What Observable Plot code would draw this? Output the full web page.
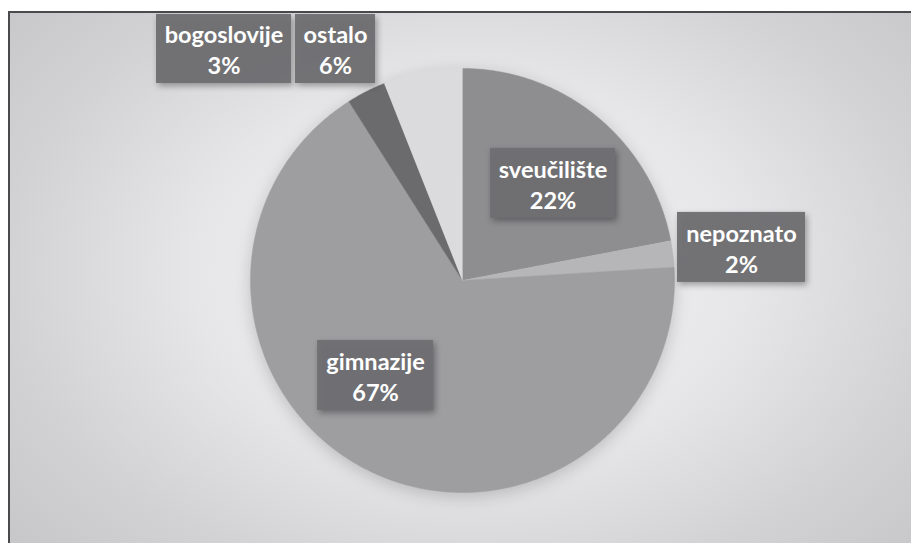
<!DOCTYPE html>
<html>
<head>
<meta charset="utf-8">
<script src="https://cdn.jsdelivr.net/npm/d3@7"></script>
<script src="https://cdn.jsdelivr.net/npm/@observablehq/plot@0.6"></script>
<style>
  html, body { margin: 0; padding: 0; background: #ffffff; }
  #wrap { position: relative; width: 911px; height: 543px; overflow: hidden; }
  #bg {
    position: absolute; left: 8px; top: 11px; right: 0; bottom: 0;
    border-top: 2px solid #4a4a4c; border-left: 2px solid #4a4a4c;
    background: radial-gradient(ellipse 620px 430px at 462px 258px, #f6f6f6 0%, #e6e6e8 45%, #d2d2d4 75%, #c6c6c8 100%);
  }
  #chart { position: absolute; left: 0; top: 0; }
</style>
</head>
<body>
<div id="wrap"><div id="bg"></div><div id="chart"></div></div>
<script>
// ---- data ----
const categories = ["sveučilište", "nepoznato", "gimnazije", "bogoslovije", "ostalo"];
const percents   = [22, 2, 67, 3, 6];
const colors     = ["#8e8e91", "#b6b6b9", "#9e9ea1", "#6b6b6e", "#dbdbdd"];

// ---- layout (pie in units of radius, centre at 0,0) ----
const W = 911, H = 543, R = 212, CX = 462, CY = 280;
// label box centres (in radius units) and box sizes (px)
const labelLayout = {
  "sveučilište": {ux: 0.427, uy: 0.458, w: 125, h: 70},
  "nepoznato":   {ux: 1.316, uy: 0.156, w: 128, h: 70},
  "gimnazije":   {ux: -0.410, uy: -0.448, w: 116, h: 70},
  "bogoslovije": {ux: -1.125, uy: 1.092, w: 135, h: 69},
  "ostalo":      {ux: -0.599, uy: 1.092, w: 80, h: 69}
};

const data = categories.map((c, i) => ({category: c, value: percents[i]}));
const arcs = d3.pie().sort(null).value(d => d.value)(data);

// slice outlines: centre + points along the arc (angle measured clockwise from 12 o'clock)
const slicePts = [];
for (const a of arcs) {
  const cat = a.data.category;
  slicePts.push({category: cat, x: 0, y: 0});
  const n = Math.max(4, Math.ceil((a.endAngle - a.startAngle) / 0.01));
  for (let k = 0; k <= n; k++) {
    const t = a.startAngle + (a.endAngle - a.startAngle) * k / n;
    slicePts.push({category: cat, x: Math.sin(t), y: Math.cos(t)});
  }
}

const labels = data.map(d => {
  const L = labelLayout[d.category];
  return {
    text: `${d.category}\n${d.value}%`,
    x: L.ux, y: L.uy,
    x1: L.ux - L.w / 2 / R, x2: L.ux + L.w / 2 / R,
    y1: L.uy - L.h / 2 / R, y2: L.uy + L.h / 2 / R
  };
});

const plot = Plot.plot({
  width: W, height: H,
  margin: 0,
  style: {background: "transparent", overflow: "visible"},
  x: {domain: [-CX / R, (W - CX) / R], axis: null},
  y: {domain: [-(H - CY) / R, CY / R], axis: null},
  color: {domain: categories, range: colors},
  marks: [
    Plot.line(slicePts, {
      x: "x", y: "y", z: "category", fill: "category", stroke: "category",
      strokeWidth: 0.5, curve: "linear",
      imageFilter: "drop-shadow(0px 4px 8px rgba(0,0,0,0.18))"
    }),
    Plot.rect(labels, {
      x1: "x1", x2: "x2", y1: "y1", y2: "y2",
      fill: "#6f6f72", fillOpacity: 0.96,
      imageFilter: "drop-shadow(2px 3px 3px rgba(0,0,0,0.35))"
    }),
    Plot.text(labels, {
      x: "x", y: "y", text: "text",
      fill: "white", fontSize: 23.5, fontWeight: "bold",
      fontFamily: "Lato, 'Open Sans', sans-serif",
      lineHeight: 1.32, lineAnchor: "middle", textAnchor: "middle"
    })
  ]
});
document.getElementById("chart").appendChild(plot);
</script>
</body>
</html>
